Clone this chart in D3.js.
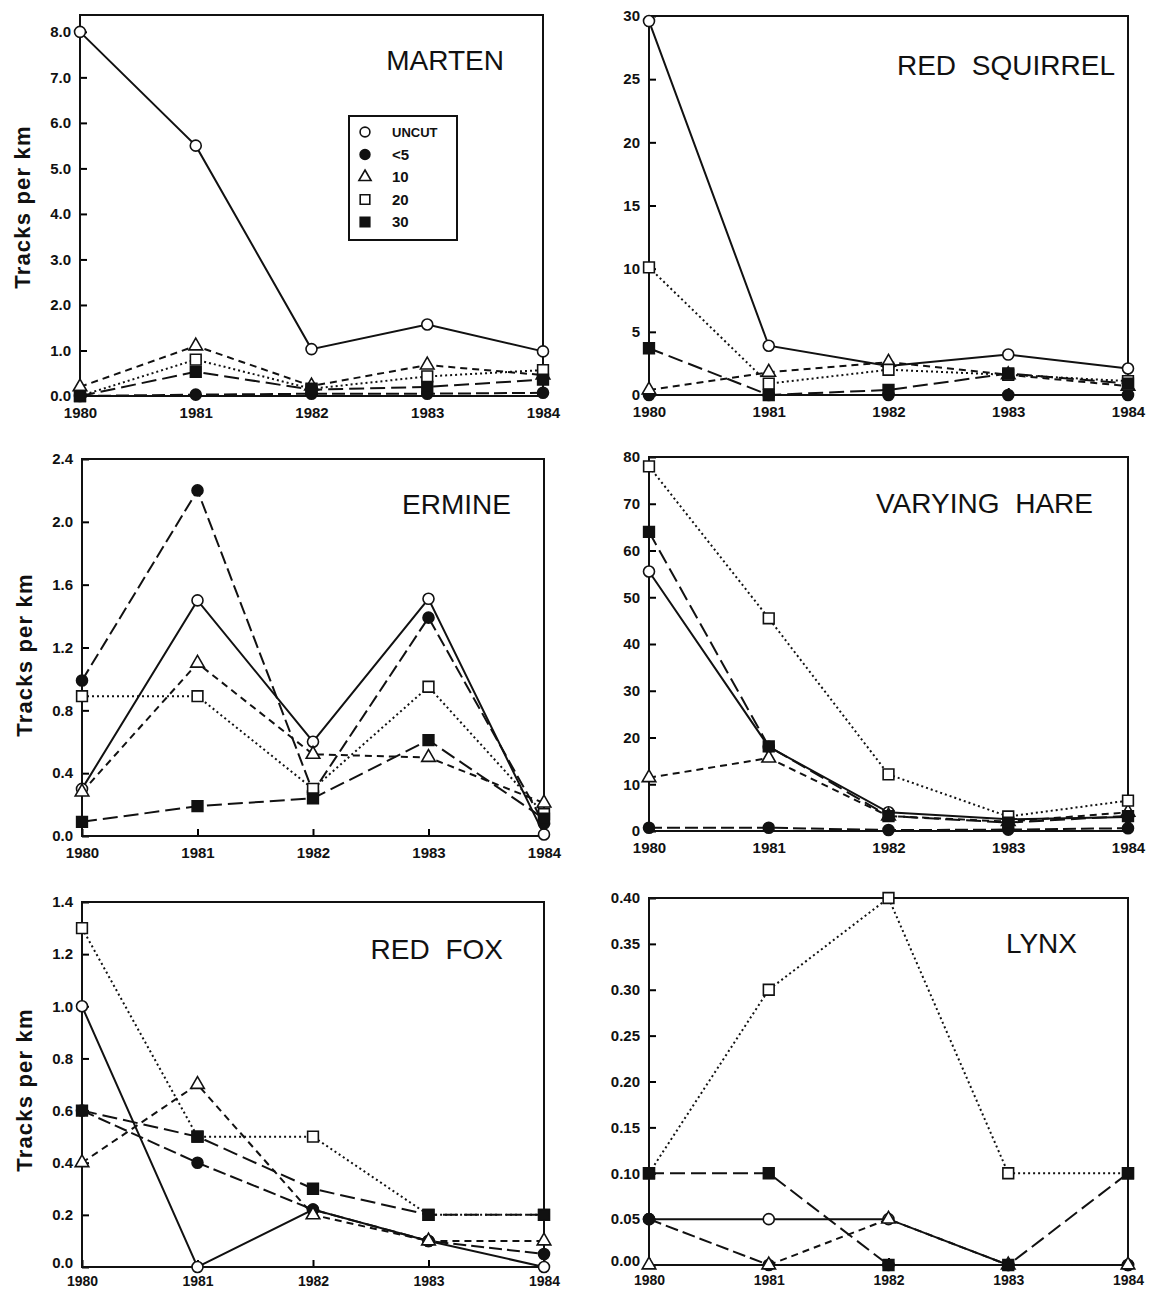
<!DOCTYPE html>
<html>
<head>
<meta charset="utf-8">
<script src="https://cdn.jsdelivr.net/npm/d3@7"></script>
<style>
  body { margin: 0; background: #fff; }
  svg { display: block; }
  .tick text { font-family: "Liberation Sans", Arial, sans-serif; font-weight: bold; fill: #111; }
</style>
</head>
<body>
<svg id="chart" width="1152" height="1291"></svg>
<script>
// Years on the x axis and the five cutting treatments (legend order).
const YEARS = [1980, 1981, 1982, 1983, 1984];
const SERIES = ["UNCUT", "<5", "10", "20", "30"];

// Tracks per km, one row per series (UNCUT, <5, 10, 20, 30).
const MARTEN = [
  [8.0, 5.5, 1.03, 1.57, 0.98],
  [0.0, 0.03, 0.05, 0.05, 0.07],
  [0.2, 1.1, 0.22, 0.68, 0.46],
  [0.0, 0.8, 0.16, 0.43, 0.57],
  [0.0, 0.53, 0.14, 0.2, 0.36]
];
const RED_SQUIRREL = [
  [29.6, 3.9, 2.3, 3.2, 2.1],
  [0, 0, 0, 0, 0],
  [0.4, 1.8, 2.6, 1.6, 0.7],
  [10.1, 0.9, 2.0, 1.6, 1.1],
  [3.7, 0, 0.4, 1.7, 0.9]
];
const ERMINE = [
  [0.3, 1.5, 0.6, 1.51, 0.01],
  [0.99, 2.2, 0.28, 1.39, 0.08],
  [0.28, 1.1, 0.52, 0.5, 0.21],
  [0.89, 0.89, 0.3, 0.95, 0.14],
  [0.09, 0.19, 0.24, 0.61, 0.11]
];
const VARYING_HARE = [
  [55.5, 18, 4, 2.5, 3],
  [0.7, 0.7, 0.2, 0.3, 0.6],
  [11.4, 15.6, 3.2, 2, 4],
  [78, 45.5, 12.1, 3.1, 6.5],
  [64, 18.1, 3.2, 1.8, 3.2]
];
const RED_FOX = [
  [1.0, 0.0, 0.22, 0.1, 0.0],
  [0.6, 0.4, 0.22, 0.1, 0.05],
  [0.4, 0.7, 0.2, 0.1, 0.1],
  [1.3, 0.5, 0.5, 0.2, 0.2],
  [0.6, 0.5, 0.3, 0.2, 0.2]
];
const LYNX = [
  [0.05, 0.05, 0.05, 0.0, 0.0],
  [0.05, 0.0, 0.0, 0.0, 0.0],
  [0.0, 0.0, 0.05, 0.0, 0.0],
  [0.1, 0.3, 0.4, 0.1, 0.1],
  [0.1, 0.1, 0.0, 0.0, 0.1]
];

// Tick values for each panel's y axis.
const MARTEN_TICKS = [0, 1, 2, 3, 4, 5, 6, 7, 8];
const SQUIRREL_TICKS = [0, 5, 10, 15, 20, 25, 30];
const ERMINE_TICKS = [0, 0.4, 0.8, 1.2, 1.6, 2.0, 2.4];
const HARE_TICKS = [0, 10, 20, 30, 40, 50, 60, 70, 80];
const FOX_TICKS = [0, 0.2, 0.4, 0.6, 0.8, 1.0, 1.2, 1.4];
const LYNX_TICKS = [0, 0.05, 0.10, 0.15, 0.20, 0.25, 0.30, 0.35, 0.40];

// Panel frames (pixels) and the axis setup for each one.
const panels = [
  { title: "MARTEN", data: MARTEN, ticks: MARTEN_TICKS, top: 8.37, fmt: ".1f",
    x0: 80, x1: 543, y0: 15, y1: 396, tx: 504, ty: 60, pad: 11, xfs: 15, ylabel: 207, legend: true },
  { title: "RED SQUIRREL", data: RED_SQUIRREL, ticks: SQUIRREL_TICKS, top: 30, fmt: "d",
    x0: 649, x1: 1128, y0: 16, y1: 395, tx: 1115, ty: 65, pad: 11, xfs: 15 },
  { title: "ERMINE", data: ERMINE, ticks: ERMINE_TICKS, top: 2.4, fmt: ".1f",
    x0: 82, x1: 544, y0: 459, y1: 836, tx: 511, ty: 504, pad: 11, xfs: 15, ylabel: 655 },
  { title: "VARYING HARE", data: VARYING_HARE, ticks: HARE_TICKS, top: 80, fmt: "d",
    x0: 649, x1: 1128, y0: 457, y1: 831, tx: 1093, ty: 503, pad: 11, xfs: 15 },
  { title: "RED FOX", data: RED_FOX, ticks: FOX_TICKS, top: 1.4, fmt: ".1f",
    x0: 82, x1: 544, y0: 902, y1: 1267, tx: 503, ty: 949, pad: 9, xfs: 14, ylabel: 1090, lift0: true },
  { title: "LYNX", data: LYNX, ticks: LYNX_TICKS, top: 0.40, fmt: ".2f",
    x0: 649, x1: 1128, y0: 898, y1: 1265, tx: 1077, ty: 943, pad: 10, xfs: 14, lift0: true }
];

// Line dash and marker for each series.
const DASH = [null, "13,5", "7,5", "2,3", "15,6"];
const SYMBOL = [d3.symbolCircle, d3.symbolCircle, d3.symbolTriangle, d3.symbolSquare, d3.symbolSquare];
const SIZE = [95, 95, 80, 115, 115];
const FILLED = [false, true, false, false, true];

const svg = d3.select("#chart");

panels.forEach(p => {
  let x = d3.scaleLinear().domain([1980, 1984]).range([p.x0, p.x1]);
  let y = d3.scaleLinear().domain([0, p.top]).range([p.y1, p.y0]);

  let g = svg.append("g");

  // axes, ticks pointing inward
  let yAxis = d3.axisLeft(y).tickValues(p.ticks).tickSize(-7).tickPadding(9)
    .tickFormat(d3.format(p.fmt));
  let xAxis = d3.axisBottom(x).tickValues(YEARS).tickSize(-7).tickPadding(p.pad)
    .tickFormat(d3.format("d"));

  g.append("g").attr("transform", `translate(${p.x0},0)`).call(yAxis)
    .call(a => a.select(".domain").remove())
    .call(a => a.selectAll("text").attr("font-size", 15))
    .call(a => a.selectAll("line").attr("stroke-width", 2))
    .call(a => {
      // bottom row: raise the zero label a little so it clears the 1980 label
      if (p.lift0) a.selectAll(".tick text").filter(d => d === 0).attr("dy", "0.05em");
    });
  g.append("g").attr("transform", `translate(0,${p.y1})`).call(xAxis)
    .call(a => a.select(".domain").remove())
    .call(a => a.selectAll("text").attr("font-size", p.xfs))
    .call(a => a.selectAll("line").attr("stroke-width", 2));

  // frame
  g.append("rect")
    .attr("x", p.x0).attr("y", p.y0)
    .attr("width", p.x1 - p.x0).attr("height", p.y1 - p.y0)
    .attr("fill", "none").attr("stroke", "#111").attr("stroke-width", 2);

  let line = d3.line().x((d, i) => x(YEARS[i])).y(d => y(d));

  p.data.forEach((vals, s) => {
    g.append("path")
      .attr("d", line(vals))
      .attr("fill", "none")
      .attr("stroke", "#111")
      .attr("stroke-width", 2)
      .attr("stroke-dasharray", DASH[s]);
  });

  p.data.forEach((vals, s) => {
    g.selectAll(null)
      .data(vals)
      .join("path")
      .attr("transform", (d, i) => `translate(${x(YEARS[i])},${y(d)})`)
      .attr("d", d3.symbol(SYMBOL[s], SIZE[s]))
      .attr("fill", FILLED[s] ? "#111" : "#fff")
      .attr("stroke", "#111")
      .attr("stroke-width", 1.6);
  });

  // panel title
  g.append("text")
    .attr("x", p.tx).attr("y", p.ty + 10)
    .attr("text-anchor", "end")
    .attr("font-family", "Liberation Sans, Arial, sans-serif")
    .attr("font-size", 28)
    .attr("word-spacing", 8)
    .attr("fill", "#111")
    .text(p.title);

  if (p.ylabel) {
    g.append("text")
      .attr("transform", `translate(${p.x0 - 50},${p.ylabel}) rotate(-90)`)
      .attr("text-anchor", "middle")
      .attr("font-family", "Liberation Sans, Arial, sans-serif")
      .attr("font-weight", "bold")
      .attr("font-size", 22)
      .attr("letter-spacing", 1.2)
      .attr("fill", "#111")
      .text("Tracks per km");
  }

  if (p.legend) {
    let lg = g.append("g");
    lg.append("rect")
      .attr("x", 349).attr("y", 116).attr("width", 108).attr("height", 124)
      .attr("fill", "#fff").attr("stroke", "#111").attr("stroke-width", 2);
    SERIES.forEach((name, s) => {
      let ly = 132 + s * 22.5;
      lg.append("path")
        .attr("transform", `translate(365,${ly})`)
        .attr("d", d3.symbol(SYMBOL[s], SIZE[s] * 0.8))
        .attr("fill", FILLED[s] ? "#111" : "#fff")
        .attr("stroke", "#111")
        .attr("stroke-width", 1.6);
      lg.append("text")
        .attr("x", 392).attr("y", ly + 5)
        .attr("font-family", "Liberation Sans, Arial, sans-serif")
        .attr("font-weight", "bold")
        .attr("font-size", name === "UNCUT" ? 13 : 15)
        .attr("fill", "#111")
        .text(name);
    });
  }
});
</script>
</body>
</html>
